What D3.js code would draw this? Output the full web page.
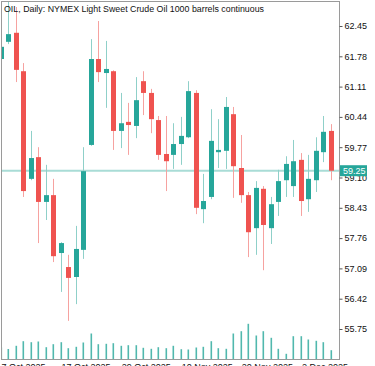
<!DOCTYPE html>
<html><head><meta charset="utf-8">
<script src="https://cdn.jsdelivr.net/npm/d3@7"></script>
<style>html,body{margin:0;padding:0;background:#fff;overflow:hidden}svg{display:block}</style>
</head><body>
<script>
const dates = ["2025-10-07","2025-10-08","2025-10-09","2025-10-10","2025-10-13","2025-10-14","2025-10-15","2025-10-16","2025-10-17","2025-10-20","2025-10-21","2025-10-22","2025-10-23","2025-10-24","2025-10-27","2025-10-28","2025-10-29","2025-10-30","2025-10-31","2025-11-03","2025-11-04","2025-11-05","2025-11-06","2025-11-07","2025-11-10","2025-11-11","2025-11-12","2025-11-13","2025-11-14","2025-11-17","2025-11-18","2025-11-19","2025-11-20","2025-11-21","2025-11-24","2025-11-25","2025-11-26","2025-11-27","2025-11-28","2025-12-01","2025-12-02","2025-12-03","2025-12-04","2025-12-05","2025-12-08"];
const openP  = [61.72,62.10,62.30,61.45,59.07,59.55,58.56,58.71,57.43,57.12,56.90,57.50,59.82,61.72,61.41,61.45,60.13,60.33,60.24,61.23,60.97,60.37,59.62,59.60,59.84,59.99,60.97,58.40,58.67,59.66,59.69,60.50,59.31,58.71,57.98,58.85,57.98,58.56,59.04,58.91,59.49,58.62,59.04,59.66,60.13];
const highP  = [62.03,63.10,62.87,61.63,60.13,59.77,59.38,59.07,57.67,57.39,58.03,59.77,62.16,62.56,62.12,61.47,60.97,60.75,61.32,61.45,61.06,60.46,60.46,60.30,60.44,61.23,61.03,59.18,60.61,60.39,60.88,60.66,60.04,58.78,59.02,58.91,58.67,59.27,59.57,59.93,59.64,59.60,59.99,60.46,60.28];
const lowP   = [61.68,62.05,61.21,58.67,59.04,57.65,58.16,57.23,56.57,55.93,56.30,57.30,59.80,61.21,60.64,59.71,59.75,59.60,59.97,60.48,60.08,59.49,58.80,59.29,59.38,59.97,58.29,58.09,58.62,59.31,59.29,58.65,58.54,57.34,57.39,57.05,57.63,58.25,58.67,58.67,58.25,58.34,58.78,59.44,59.04];
const closeP = [61.99,62.27,61.48,58.80,59.53,58.56,58.71,57.36,57.65,56.88,57.52,59.24,61.72,61.43,61.50,60.13,60.30,60.26,60.81,60.97,60.39,59.60,59.46,59.84,60.02,61.01,58.43,58.58,59.91,59.71,60.66,59.35,58.71,57.89,58.87,58.05,58.51,59.02,59.40,59.46,58.58,59.07,59.69,60.11,59.25];
const volumes = [120,105,137,183,173,180,123,153,173,113,127,170,260,153,157,163,137,143,143,117,107,123,113,137,103,100,120,127,183,113,107,260,283,357,240,283,217,107,57,233,233,200,187,173,93];
const yTicks = [62.45,61.78,61.11,60.44,59.77,59.10,58.43,57.76,57.09,56.42,55.75];
const xLabelIdx = [0,8,16,24,32,40];
const xLabels = ["7 Oct 2025","17 Oct 2025","29 Oct 2025","10 Nov 2025","20 Nov 2025","2 Dec 2025"];
const lastPrice = 59.25;
const title = "OIL, Daily:  NYMEX Light Sweet Crude Oil 1000 barrels continuous";

const W = 375, H = 366;
const plot = {l: 1.5, t: 1.5, r: 339.5, b: 359.5};
const UP = "#26a69a", DN = "#ef5350", UPW = "#8fd0c9", DNW = "#f6a2a0";

const svg = d3.select("body").append("svg").attr("width", W).attr("height", H);
svg.append("defs").append("clipPath").attr("id","clip")
  .append("rect").attr("x", plot.l).attr("y", plot.t).attr("width", plot.r - plot.l).attr("height", plot.b - plot.t);

const x = d3.scaleLinear().domain([0, dates.length - 1]).range([0.5, 331]);
const y = d3.scaleLinear().domain([55.75, 62.45]).range([329, 26]);
const v = d3.scaleLinear().domain([0, 400]).range([plot.b, plot.b - 40]);

const data = dates.map((d, i) => ({d, i, o: openP[i], h: highP[i], l: lowP[i], c: closeP[i], vol: volumes[i]}));
const g = svg.append("g").attr("clip-path", "url(#clip)");

// volumes
g.selectAll("rect.vol").data(data).join("rect").attr("class","vol")
  .attr("x", d => Math.round(x(d.i)) - 0.5).attr("width", 1.6)
  .attr("y", d => v(d.vol)).attr("height", d => plot.b - v(d.vol))
  .attr("fill", UP).attr("opacity", 0.8);

// price line
g.append("line").attr("x1", plot.l).attr("x2", plot.r)
  .attr("y1", y(lastPrice)).attr("y2", y(lastPrice))
  .attr("stroke", "#a9dcd6").attr("stroke-width", 2);

// wicks
g.selectAll("line.wick").data(data).join("line").attr("class","wick")
  .attr("x1", d => Math.round(x(d.i)) + 0.5).attr("x2", d => Math.round(x(d.i)) + 0.5)
  .attr("y1", d => y(d.h)).attr("y2", d => y(d.l))
  .attr("stroke", d => d.c >= d.o ? UPW : DNW).attr("stroke-width", 1);

// bodies
g.selectAll("rect.body").data(data).join("rect").attr("class","body")
  .attr("x", d => Math.round(x(d.i)) - 2).attr("width", 5)
  .attr("y", d => y(Math.max(d.o, d.c)))
  .attr("height", d => Math.max(1, Math.abs(y(d.o) - y(d.c))))
  .attr("fill", d => d.c >= d.o ? UP : DN);

// frame
svg.append("rect").attr("x", plot.l).attr("y", plot.t)
  .attr("width", plot.r - plot.l).attr("height", plot.b - plot.t)
  .attr("fill", "none").attr("stroke", "#9a9a9a").attr("stroke-width", 1);

// y axis
const yAxis = d3.axisRight(y).tickValues(yTicks).tickFormat(d3.format(".2f")).tickSize(3).tickPadding(2);
const ya = svg.append("g").attr("transform", `translate(${plot.r},0)`).call(yAxis);
ya.select(".domain").remove();
ya.selectAll("line").attr("stroke", "#555");
ya.selectAll("text").attr("font-family", "Liberation Sans, Arial, sans-serif").attr("font-size", 9).attr("fill", "#111");

// x labels
const xa = svg.append("g");
xa.selectAll("text").data(xLabelIdx).join("text")
  .attr("x", (d) => x(d) + 1).attr("y", 369.5)
  .attr("font-family", "Liberation Sans, Arial, sans-serif").attr("font-size", 9).attr("fill", "#111")
  .text((d, k) => xLabels[k]);

// last price label
const lp = svg.append("g");
lp.append("rect").attr("x", plot.r + 0.5).attr("y", y(lastPrice) - 5.5).attr("width", 27).attr("height", 11).attr("fill", UP);
lp.append("text").attr("x", plot.r + 3.5).attr("y", y(lastPrice)).attr("dy", "0.34em")
  .attr("font-family", "Liberation Sans, Arial, sans-serif").attr("font-size", 9).attr("fill", "#fff")
  .text(lastPrice.toFixed(2));

// title
svg.append("text").attr("x", 4).attr("y", 12)
  .attr("font-family", "Liberation Sans, Arial, sans-serif").attr("font-size", 9.2).attr("fill", "#111")
  .attr("textLength", 260).attr("lengthAdjust", "spacingAndGlyphs")
  .text(title);
</script>
</body></html>
